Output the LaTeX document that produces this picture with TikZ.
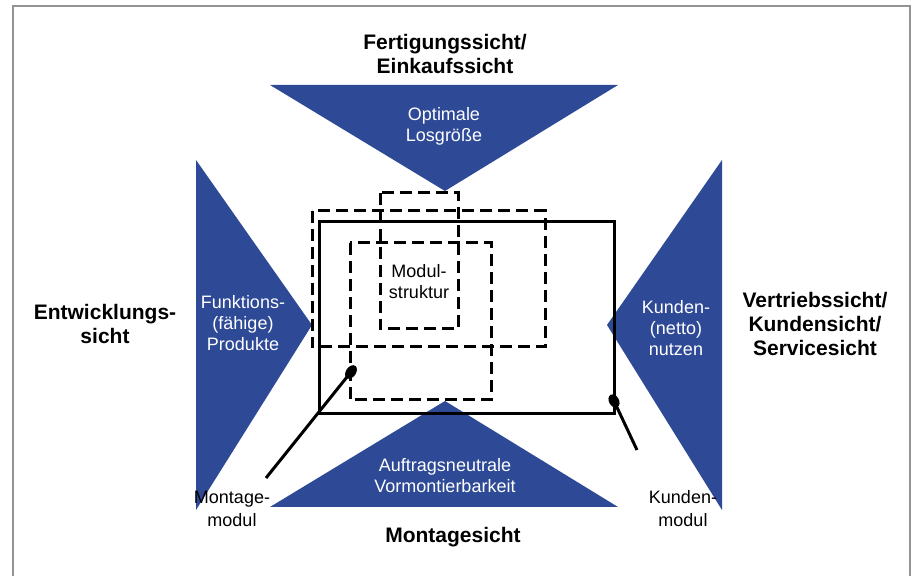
\documentclass[tikz,border=0pt]{standalone}
\usepackage{fontspec}
\setmainfont{Liberation Sans}
\definecolor{sichtblue}{RGB}{46,74,150}
\begin{document}
\begin{tikzpicture}
[x=0.5pt,y=-0.5pt,
 triangledecorate/.style={fill=sichtblue},
 viewdecorate/.style={font=\fontsize{10.5}{12}\selectfont\bfseries,align=center,inner sep=0pt},
 innerdecorate/.style={font=\fontsize{9}{10.5}\selectfont,text=white,align=center,inner sep=0pt},
 labeldecorate/.style={font=\fontsize{9}{11.5}\selectfont,align=center,inner sep=0pt},
 dasheddecorate/.style={draw,line width=1.5pt,dash pattern=on 6pt off 3pt},
 solidecorate/.style={draw,line width=1.5pt},
 pointerdecorate/.style={line width=1.5pt}]
\useasboundingbox (0,0) rectangle (912,576);
% frame
\draw[gray!85,line width=1pt] (13,576) -- (13,6) -- (910,6) -- (910,576);
% views (triangles)
\fill[triangledecorate] (270,85) -- (618,85) -- (445,191) -- cycle;
\fill[triangledecorate] (196,160) -- (196,510) -- (312,325) -- cycle;
\fill[triangledecorate] (722,160) -- (722,510) -- (607,325) -- cycle;
\fill[triangledecorate] (270,507) -- (618,507) -- (445,401) -- cycle;
% product and module boxes
\draw[solidecorate] (319,222) rectangle (614,414);
\draw[dasheddecorate] (312,211) rectangle (545,347);
\draw[dasheddecorate] (350,243) rectangle (491,400);
\draw[dasheddecorate] (380,193) rectangle (458,329);
% texts in the triangles
\node (losgroesse) at (444,126) [innerdecorate] {Optimale\\Losgröße};
\node (produkte) at (243,323) [innerdecorate] {Funktions-\\(fähige)\\Produkte};
\node (nutzen) at (676,328) [innerdecorate] {Kunden-\\(netto)\\nutzen};
\node (vormontage) at (445,476) [innerdecorate] {Auftragsneutrale\\Vormontierbarkeit};
\node (modulstruktur) at (419,282) [labeldecorate,font=\fontsize{9}{10.5}\selectfont] {Modul-\\struktur};
% views
\node (fertigung) at (445,54) [viewdecorate] {Fertigungssicht/\\Einkaufssicht};
\node (entwicklung) at (105,324) [viewdecorate] {Entwicklungs-\\sicht};
\node (vertrieb) at (815,324) [viewdecorate] {Vertriebssicht/\\Kundensicht/\\Servicesicht};
\node (montage) at (453,537) [viewdecorate] {Montagesicht};
% module labels and pointers
\node (montagemodul) at (232,509) [labeldecorate] {Montage-\\modul};
\node (kundenmodul) at (683,509) [labeldecorate] {Kunden-\\modul};
\coordinate (montagedot) at (351,372);
\coordinate (montagetail) at (266,478);
\coordinate (kundendot) at (614,401);
\coordinate (kundentail) at (637,450);
\fill (montagedot) ellipse [x radius=5, y radius=7.5, rotate=-35];
\fill (kundendot) ellipse [x radius=5, y radius=7, rotate=30];
\draw[pointerdecorate] (montagetail) -- (montagedot);
\draw[pointerdecorate] (kundentail) -- (kundendot);
\end{tikzpicture}
\end{document}
